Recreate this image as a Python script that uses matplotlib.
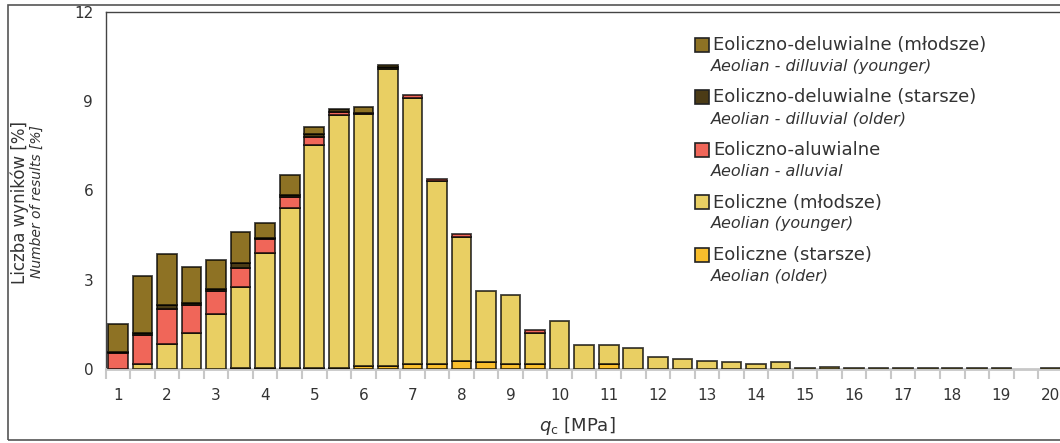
import matplotlib.pyplot as plt
from matplotlib.patches import Rectangle
import numpy as np

# q_c classes [MPa]
qc = [1.0, 1.5, 2.0, 2.5, 3.0, 3.5, 4.0, 4.5, 5.0, 5.5,
      6.0, 6.5, 7.0, 7.5, 8.0, 8.5, 9.0, 9.5, 10.0, 10.5,
      11.0, 11.5, 12.0, 12.5, 13.0, 13.5, 14.0, 14.5, 15.0, 15.5,
      16.0, 16.5, 17.0, 17.5, 18.0, 18.5, 19.0, 19.5, 20.0]

# share of results [%], stacked bottom -> top
eol_old = [0, 0, 0, 0, 0, 0.05, 0.05, 0.05, 0.05, 0.05,
           0.1, 0.1, 0.17, 0.17, 0.28, 0.23, 0.17, 0.17, 0, 0,
           0.17, 0, 0, 0, 0, 0, 0, 0, 0, 0,
           0, 0, 0, 0, 0, 0, 0, 0, 0]
eol_young = [0, 0.17, 0.83, 1.2, 1.85, 2.7, 3.85, 5.37, 7.47, 8.49,
             8.46, 9.97, 8.95, 6.14, 4.17, 2.39, 2.33, 1.04, 1.6, 0.82,
             0.65, 0.7, 0.41, 0.33, 0.27, 0.22, 0.16, 0.22, 0.03, 0.08,
             0.03, 0.03, 0.03, 0.03, 0.03, 0.03, 0.03, 0, 0.03]
eol_aluv = [0.55, 0.97, 1.2, 0.95, 0.78, 0.65, 0.48, 0.37, 0.29, 0.11,
            0.06, 0, 0.08, 0.08, 0.09, 0, 0, 0.09, 0, 0,
            0, 0, 0, 0, 0, 0, 0, 0, 0, 0,
            0, 0, 0, 0, 0, 0, 0, 0, 0]
eol_delu_old = [0.02, 0.08, 0.12, 0.08, 0.07, 0.15, 0.03, 0.05, 0.1, 0.08,
                0, 0.07, 0, 0, 0, 0, 0, 0, 0, 0,
                0, 0, 0, 0, 0, 0, 0, 0, 0, 0,
                0, 0, 0, 0, 0, 0, 0, 0, 0]
eol_delu_young = [0.93, 1.9, 1.73, 1.2, 0.95, 1.07, 0.5, 0.68, 0.22, 0,
                  0.18, 0.08, 0, 0, 0, 0, 0, 0, 0, 0,
                  0, 0, 0, 0, 0, 0, 0, 0, 0, 0,
                  0, 0, 0, 0, 0, 0, 0, 0, 0]

series = [eol_old, eol_young, eol_aluv, eol_delu_old, eol_delu_young]
colors = ['#F9BE2C', '#E9CF63', '#F06659', '#4B3B16', '#8E7224']
labels_pl = ['Eoliczne (starsze)', 'Eoliczne (młodsze)', 'Eoliczno-aluwialne',
             'Eoliczno-deluwialne (starsze)', 'Eoliczno-deluwialne (młodsze)']
labels_en = ['Aeolian (older)', 'Aeolian (younger)', 'Aeolian - alluvial',
             'Aeolian - dilluvial (older)', 'Aeolian - dilluvial (younger)']

txt = '#333333'
W, H = 1060, 443

fig = plt.figure(figsize=(10.6, 4.43), dpi=100)
ax = fig.add_axes([105.7 / W, 1 - 369 / H, 957.0 / W, 357 / H])

x = np.array(qc)
bottom = np.zeros(len(qc))
for vals, col in zip(series, colors):
    v = np.array(vals, dtype=float)
    m = v > 0
    ax.bar(x[m], v[m], width=0.4, bottom=bottom[m], color=col,
           edgecolor=(0, 0, 0, 0.75), linewidth=1.3, zorder=3)
    bottom += v

ax.set_xlim(0.75, 20.25)
ax.set_ylim(0, 12)
ax.set_yticks([0, 3, 6, 9, 12])
ax.set_xticks(range(1, 21))
ax.set_xticks(np.arange(0.75, 20.3, 0.5), minor=True)
ax.tick_params(axis='x', which='major', length=0, pad=14, labelsize=11, labelcolor=txt)
ax.tick_params(axis='x', which='minor', length=7, width=1.5, color='#c8c8c8', direction='out')
ax.tick_params(axis='y', length=0, pad=9, labelsize=11, labelcolor=txt)

for s in ['left', 'top']:
    ax.spines[s].set_color('#444444')
    ax.spines[s].set_linewidth(1.0)
ax.spines['right'].set_visible(False)
ax.spines['bottom'].set_color('#c8c8c8')
ax.spines['bottom'].set_linewidth(2)

# axis titles
fig.text(20 / W, 1 - 202 / H, 'Liczba wyników [%]', rotation=90, ha='center', va='center',
         fontsize=12, color=txt)
fig.text(37 / W, 1 - 202 / H, 'Number of results [%]', rotation=90, ha='center', va='center',
         fontsize=10, style='italic', color=txt)
fig.text(577 / W, 1 - 426 / H, r'$q_\mathregular{c}$ [MPa]', ha='center', va='center',
         fontsize=13, color=txt)

# legend drawn by hand (two-line entries, top entry = top of stack)
for i, k in enumerate(range(4, -1, -1)):
    yc = 45 + i * 52.5
    fig.patches.append(Rectangle((695 / W, 1 - (yc + 7) / H), 14 / W, 14 / H,
                                 transform=fig.transFigure, facecolor=colors[k],
                                 edgecolor='#222222', linewidth=1.2))
    fig.text(713 / W, 1 - yc / H, labels_pl[k], ha='left', va='center',
             fontsize=13, color=txt)
    fig.text(711 / W, 1 - (yc + 21) / H, labels_en[k], ha='left', va='center',
             fontsize=11.5, style='italic', color=txt)

# outer frame
fig.patches.append(Rectangle((8 / W, 1 - 440 / H), 1.1, 435 / H, transform=fig.transFigure,
                             fill=False, edgecolor='#555555', linewidth=1.2))

fig.savefig('out.png', dpi=100)
